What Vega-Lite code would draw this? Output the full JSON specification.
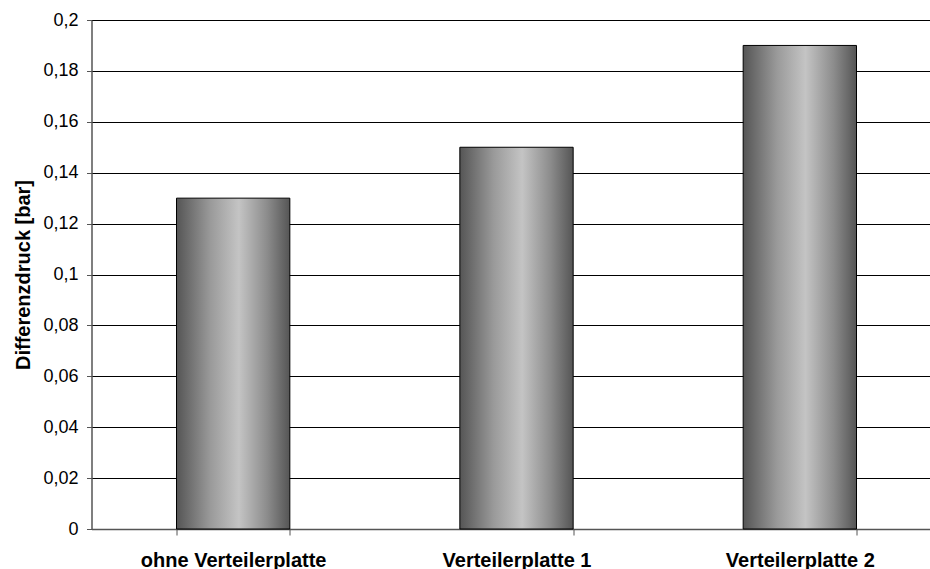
{
  "$schema": "https://vega.github.io/schema/vega-lite/v6.json",
  "width": 850,
  "height": 509,
  "autosize": {"type": "none"},
  "padding": {"left": 91.5, "top": 20, "right": 0, "bottom": 40},
  "background": "white",
  "config": {
    "locale": {"number": {"decimal": ",", "thousands": ".", "grouping": [3], "currency": ["", " €"]}},
    "view": {"stroke": null},
    "font": "Liberation Sans"
  },
  "data": {
    "values": [
      {"kategorie": "ohne Verteilerplatte", "wert": 0.13},
      {"kategorie": "Verteilerplatte 1", "wert": 0.15},
      {"kategorie": "Verteilerplatte 2", "wert": 0.19}
    ]
  },
  "mark": {
    "type": "bar",
    "stroke": "black",
    "strokeWidth": 1,
    "color": {
      "gradient": "linear",
      "x1": 0, "y1": 0, "x2": 1, "y2": 0,
      "stops": [
        {"offset": 0, "color": "#555555"},
        {"offset": 0.3, "color": "#9a9a9a"},
        {"offset": 0.55, "color": "#c4c4c4"},
        {"offset": 0.8, "color": "#8c8c8c"},
        {"offset": 1, "color": "#555555"}
      ]
    }
  },
  "encoding": {
    "x": {
      "field": "kategorie",
      "type": "nominal",
      "sort": null,
      "scale": {"paddingInner": 0.6, "paddingOuter": 0.3},
      "axis": {
        "title": null,
        "labelAngle": 0,
        "labelLimit": 0,
        "labelFont": "Liberation Sans",
        "labelFontSize": 20,
        "labelFontWeight": "bold",
        "labelColor": "black",
        "labelPadding": 15,
        "tickBand": "extent",
        "tickSize": 6,
        "tickColor": "#555555",
        "domainColor": "#555555",
        "domainWidth": 1.5
      }
    },
    "y": {
      "field": "wert",
      "type": "quantitative",
      "scale": {"domain": [0, 0.2], "nice": false},
      "axis": {
        "title": "Differenzdruck [bar]",
        "titleFont": "Liberation Sans",
        "titleFontSize": 20,
        "titleFontWeight": "bold",
        "titleColor": "black",
        "titlePadding": 9,
        "values": [0, 0.02, 0.04, 0.06, 0.08, 0.1, 0.12, 0.14, 0.16, 0.18, 0.2],
        "format": ".2~f",
        "labelFont": "Liberation Sans",
        "labelFontSize": 18,
        "labelColor": "black",
        "labelPadding": 8.5,
        "tickSize": 5,
        "tickColor": "#555555",
        "domainColor": "#555555",
        "domainWidth": 1.5,
        "grid": true,
        "gridColor": "black",
        "gridWidth": 1
      }
    }
  }
}
